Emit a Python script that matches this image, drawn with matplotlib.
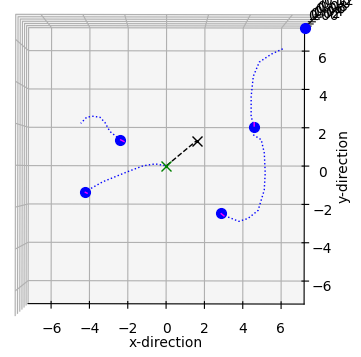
import numpy as np
import matplotlib
matplotlib.use("Agg")
import matplotlib.pyplot as plt

# trails of the bodies (x, y)
trail1_x = [-2.42, -2.95, -3.21, -3.47, -3.84, -4.16, -4.47]
trail1_y = [1.37, 1.79, 2.26, 2.53, 2.58, 2.53, 2.21]
trail2_x = [-4.26, -3.32, -2.05, -1.21, -0.58, 0.0]
trail2_y = [-1.37, -0.84, -0.32, 0.0, 0.10, 0.0]
trail3_x = [4.58, 4.42, 4.42, 4.53, 4.84, 5.47, 6.16]
trail3_y = [2.05, 2.58, 3.63, 4.68, 5.42, 5.84, 6.16]
trail4_x = [4.53, 4.95, 5.11, 5.16, 5.11, 4.79, 4.26, 3.79, 3.26, 2.89]
trail4_y = [1.63, 1.37, 0.68, -0.37, -1.26, -2.32, -2.74, -2.89, -2.68, -2.47]

# current body positions
body_x = [-2.42, -4.26, 4.58, 2.84, 7.2]
body_y = [1.37, -1.37, 2.05, -2.47, 7.2]
body_z = [0, 0, 0, 0, 0]
# velocity arrows (tiny)
vel_x = [0.6, 0.4, 0.0, 0.5, 0.0]
vel_y = [-0.3, -0.2, 0.6, -0.4, 0.0]

com = [0.0, 0.0]
target = [1.58, 1.32]
lim = 7.2
ticks = [-6, -4, -2, 0, 2, 4, 6]

fig = plt.figure(figsize=(3.61, 3.57), dpi=100)
# big axes, cropped by the figure edges (like a tight-bbox save)
ax = fig.add_axes([-0.1765, -0.1085, 1.241, 1.255], projection='3d')

for tx, ty in [(trail1_x, trail1_y), (trail2_x, trail2_y),
               (trail3_x, trail3_y), (trail4_x, trail4_y)]:
    ax.plot(tx, ty, np.zeros(len(tx)), 'b:', lw=1)

ax.plot(body_x, body_y, body_z, 'bo', markersize=7)
ax.quiver(body_x, body_y, body_z, vel_x, vel_y, np.zeros(5),
          length=0.4, color='magenta', lw=1, arrow_length_ratio=0)

ax.plot([com[0], target[0]], [com[1], target[1]], [0, 0], 'k--', lw=1)
ax.plot([com[0]], [com[1]], [0], 'gx', markersize=7)
ax.plot([target[0]], [target[1]], [0], 'kx', markersize=7)

ax.set_xlim(-lim, lim)
ax.set_ylim(-lim, lim)
ax.set_zlim(0, 0.12)
ax.set_xticks(ticks)
ax.set_yticks(ticks)
ax.set_xlabel("x-direction", labelpad=4)
ax.set_ylabel("y-direction", labelpad=4)
ax.view_init(elev=89.9, azim=-89.9)

plt.savefig("out.png")
